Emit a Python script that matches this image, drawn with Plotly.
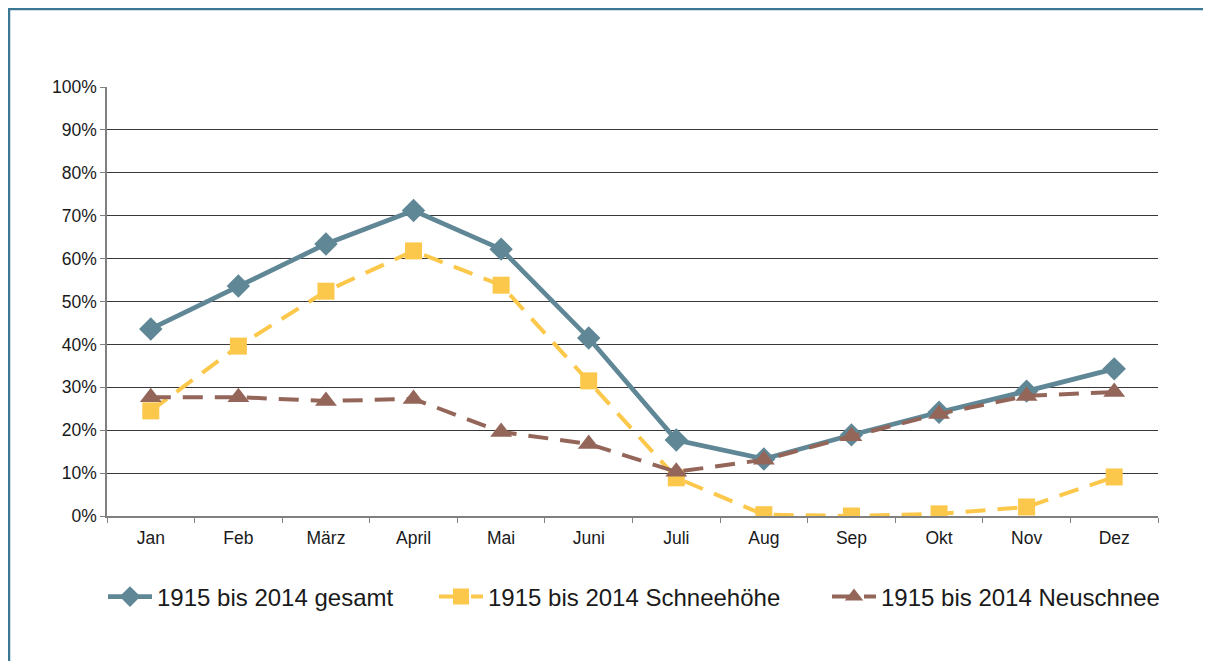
import plotly.graph_objects as go

months = ["Jan", "Feb", "März", "April", "Mai", "Juni", "Juli", "Aug", "Sep", "Okt", "Nov", "Dez"]
gesamt = [43.6, 53.6, 63.4, 71.2, 62.2, 41.5, 17.7, 13.3, 18.9, 24.2, 29.1, 34.3]
schneehoehe = [24.5, 39.6, 52.4, 61.8, 53.8, 31.5, 8.9, 0.3, 0.0, 0.5, 2.1, 9.1]
neuschnee = [27.7, 27.7, 26.8, 27.3, 19.6, 16.8, 10.3, 13.1, 18.6, 23.8, 28.0, 28.9]
y_ticks = [0, 10, 20, 30, 40, 50, 60, 70, 80, 90, 100]
y_labels = [f"{v}%" for v in y_ticks]

names = ["1915 bis 2014 gesamt", "1915 bis 2014 Schneehöhe", "1915 bis 2014 Neuschnee"]
colors = ["#5F8796", "#FCC84C", "#946659"]

# page is offset by the 8px body margin; coordinates below are figure pixels
W, H = 1211, 661
L, R, T, B = 99, 61, 79, 153
pw, ph = W - L - R, H - T - B


def fx(px):
    return (px - L) / pw


def fy(py):
    return (H - B - py) / ph


fig = go.Figure()
fig.add_trace(go.Scatter(
    x=months, y=gesamt, name=names[0], mode="lines+markers", legend="legend",
    line=dict(color=colors[0], width=4.7),
    marker=dict(symbol="diamond", size=18, color=colors[0]),
))
fig.add_trace(go.Scatter(
    x=months, y=schneehoehe, name=names[1], mode="lines+markers", legend="legend2",
    line=dict(color=colors[1], width=4, dash="20px,12px"),
    marker=dict(symbol="square", size=17, color=colors[1]),
))
fig.add_trace(go.Scatter(
    x=months, y=neuschnee, name=names[2], mode="lines+markers", legend="legend3",
    line=dict(color=colors[2], width=4, dash="20px,12px"),
    marker=dict(symbol="triangle-up", size=19, color=colors[2]),
))

leg_common = dict(orientation="h", xanchor="left", yanchor="middle", itemwidth=44,
                  font=dict(size=24, color="#1a1a1a"), bgcolor="rgba(0,0,0,0)")

fig.update_layout(
    width=W, height=H,
    margin=dict(l=L, r=R, t=T, b=B),
    paper_bgcolor="white", plot_bgcolor="white",
    font=dict(family="Liberation Sans, Arial, sans-serif", color="#1a1a1a"),
    showlegend=True,
    legend=dict(x=fx(95), y=fy(589), **leg_common),
    legend2=dict(x=fx(426), y=fy(589), **leg_common),
    legend3=dict(x=fx(819), y=fy(589), **leg_common),
    xaxis=dict(
        type="category", categoryorder="array", categoryarray=months,
        tickson="boundaries", ticks="outside", ticklen=5, tickcolor="#808080",
        showline=True, linecolor="#808080", linewidth=1.5,
        showgrid=False, tickfont=dict(size=17.5, color="#1a1a1a"),
        ticklabelstandoff=5,
        range=[-0.5, 11.5], fixedrange=True,
    ),
    yaxis=dict(
        range=[0, 100], tickvals=y_ticks, ticktext=y_labels,
        ticks="outside", ticklen=5, tickcolor="#808080",
        showline=True, linecolor="#808080", linewidth=1.5,
        showgrid=True, gridcolor="#383838", gridwidth=1.2,
        zeroline=False, tickfont=dict(size=17.5, color="#1a1a1a"),
    ),
    shapes=[
        dict(type="line", xref="paper", yref="paper",
             x0=fx(1), x1=fx(1), y0=fy(0), y1=fy(700),
             line=dict(color="#3B7893", width=2.5)),
        dict(type="line", xref="paper", yref="paper",
             x0=fx(0), x1=fx(1300), y0=fy(1), y1=fy(1),
             line=dict(color="#3B7893", width=2.5)),
    ],
)

fig.write_html("out.html")
